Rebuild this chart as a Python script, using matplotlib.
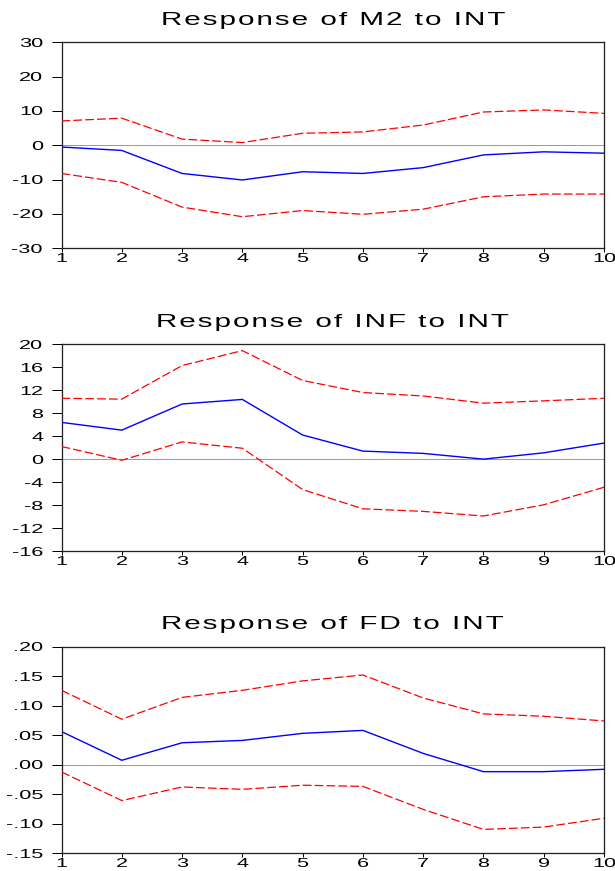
import os
import matplotlib
matplotlib.use("Agg")
import matplotlib.pyplot as plt
from matplotlib import font_manager as fm

# ---------------- data ----------------
periods = [1, 2, 3, 4, 5, 6, 7, 8, 9, 10]

m2_resp = [-0.5, -1.5, -8.2, -10.1, -7.7, -8.2, -6.5, -2.8, -1.9, -2.3]
m2_upper = [7.1, 7.9, 1.8, 0.8, 3.5, 3.9, 5.9, 9.7, 10.3, 9.3]
m2_lower = [-8.2, -10.8, -18.0, -20.8, -19.0, -20.1, -18.6, -15.0, -14.2, -14.2]

inf_resp = [6.4, 5.05, 9.6, 10.4, 4.2, 1.4, 1.0, 0.0, 1.1, 2.8]
inf_upper = [10.6, 10.45, 16.3, 18.9, 13.7, 11.6, 11.0, 9.75, 10.15, 10.6]
inf_lower = [2.2, -0.2, 3.0, 1.9, -5.3, -8.65, -9.1, -9.9, -7.95, -4.9]

fd_resp = [0.056, 0.0073, 0.037, 0.041, 0.053, 0.058, 0.019, -0.012, -0.012, -0.008]
fd_upper = [0.126, 0.077, 0.114, 0.126, 0.142, 0.152, 0.113, 0.086, 0.082, 0.074]
fd_lower = [-0.0125, -0.061, -0.038, -0.042, -0.035, -0.037, -0.076, -0.110, -0.106, -0.091]

titles = ["Response of M2 to INT", "Response of INF to INT", "Response of FD to INT"]

m2_ticks = [-30, -20, -10, 0, 10, 20, 30]
m2_ticklabels = ["-30", "-20", "-10", "0", "10", "20", "30"]
inf_ticks = [-16, -12, -8, -4, 0, 4, 8, 12, 16, 20]
inf_ticklabels = ["-16", "-12", "-8", "-4", "0", "4", "8", "12", "16", "20"]
fd_ticks = [-0.15, -0.10, -0.05, 0.00, 0.05, 0.10, 0.15, 0.20]
fd_ticklabels = ["-.15", "-.10", "-.05", ".00", ".05", ".10", ".15", ".20"]
x_ticklabels = ["1", "2", "3", "4", "5", "6", "7", "8", "9", "10"]


# ------------- horizontally stretched fonts (EViews-like look) -------------
def make_wide_font(dst, family, sx, track_em):
    from fontTools.ttLib import TTFont
    from fontTools.ttLib.tables import ttProgram
    src = fm.findfont(fm.FontProperties(family="Liberation Sans"),
                      fallback_to_default=False)
    f = TTFont(src)
    upm = f["head"].unitsPerEm
    track = int(round(track_em * upm))
    half = track // 2
    glyf = f["glyf"]
    hmtx = f["hmtx"]
    for gname in f.getGlyphOrder():
        g = glyf[gname]
        if g.isComposite():
            for c in g.components:
                if hasattr(c, "x"):
                    c.x = int(round(c.x * sx))
        elif g.numberOfContours > 0:
            coords = g.coordinates
            for i in range(len(coords)):
                x, y = coords[i]
                coords[i] = (int(round(x * sx)) + half, int(y))
        if hasattr(g, "program"):
            p = ttProgram.Program()
            p.fromBytecode(b"")
            g.program = p
        adv, lsb = hmtx[gname]
        hmtx[gname] = (int(round(adv * sx)) + track, int(round(lsb * sx)) + half)
    for tag in ("kern", "GPOS", "hdmx", "LTSH", "VDMX", "fpgm", "prep", "cvt "):
        if tag in f:
            del f[tag]
    for rec in f["name"].names:
        if rec.nameID in (1, 4, 16, 21):
            rec.string = family
        elif rec.nameID == 6:
            rec.string = family.replace(" ", "")
    f.save(dst)
    fm.fontManager.addfont(dst)
    return family


try:
    title_family = make_wide_font(os.path.abspath("evtitle.ttf"), "EVTitleWide", 1.65, 0.11)
    tick_family = make_wide_font(os.path.abspath("evtick.ttf"), "EVTickWide", 1.8, 0.0)
except Exception:
    title_family = "Liberation Sans"
    tick_family = "Liberation Sans"

DPI = 100
px = 72.0 / DPI  # points per pixel

fig = plt.figure(figsize=(6.15, 8.71), dpi=DPI)
fig.patch.set_facecolor("white")

W, H = 615.0, 871.0
left_px, right_px = 61.5, 604.0
panels_px = [(42.3, 248.3), (344.3, 551.0), (646.7, 853.0)]

series = [
    (m2_resp, m2_upper, m2_lower, m2_ticks, m2_ticklabels, (-30, 30)),
    (inf_resp, inf_upper, inf_lower, inf_ticks, inf_ticklabels, (-16, 20)),
    (fd_resp, fd_upper, fd_lower, fd_ticks, fd_ticklabels, (-0.15, 0.20)),
]

for (top, bot), title, (resp, up, lo, yt, ytl, ylim) in zip(panels_px, titles, series):
    ax = fig.add_axes([left_px / W, 1 - bot / H, (right_px - left_px) / W, (bot - top) / H])
    ax.axhline(0, color="#9a9a9a", lw=1.0 * px, zorder=1)
    ax.plot(periods, resp, color="#0000ff", lw=1.0, zorder=3)
    for band in (up, lo):
        ln, = ax.plot(periods, band, color="#ff0000", lw=0.9, zorder=3)
        ln.set_dashes((7, 2.5))
    ax.set_xlim(1, 10)
    ax.set_ylim(*ylim)
    ax.set_xticks(periods)
    ax.set_xticklabels(x_ticklabels, family=tick_family, fontsize=12.0 * px)
    ax.set_yticks(yt)
    ax.set_yticklabels(ytl, family=tick_family, fontsize=12.0 * px)
    ax.tick_params(axis="y", direction="out", length=10 * px, width=1.0 * px,
                   pad=8.5 * px, colors="black")
    ax.tick_params(axis="x", direction="out", length=4 * px, width=1.0 * px,
                   pad=1.0 * px, colors="black")
    for s in ax.spines.values():
        s.set_linewidth(1.3 * px)
        s.set_color("#222222")
    ax.set_title(title, family=title_family, fontsize=18.0 * px, pad=17.5 * px,
                 color="black")

fig.savefig("out.png", dpi=DPI, facecolor="white")
